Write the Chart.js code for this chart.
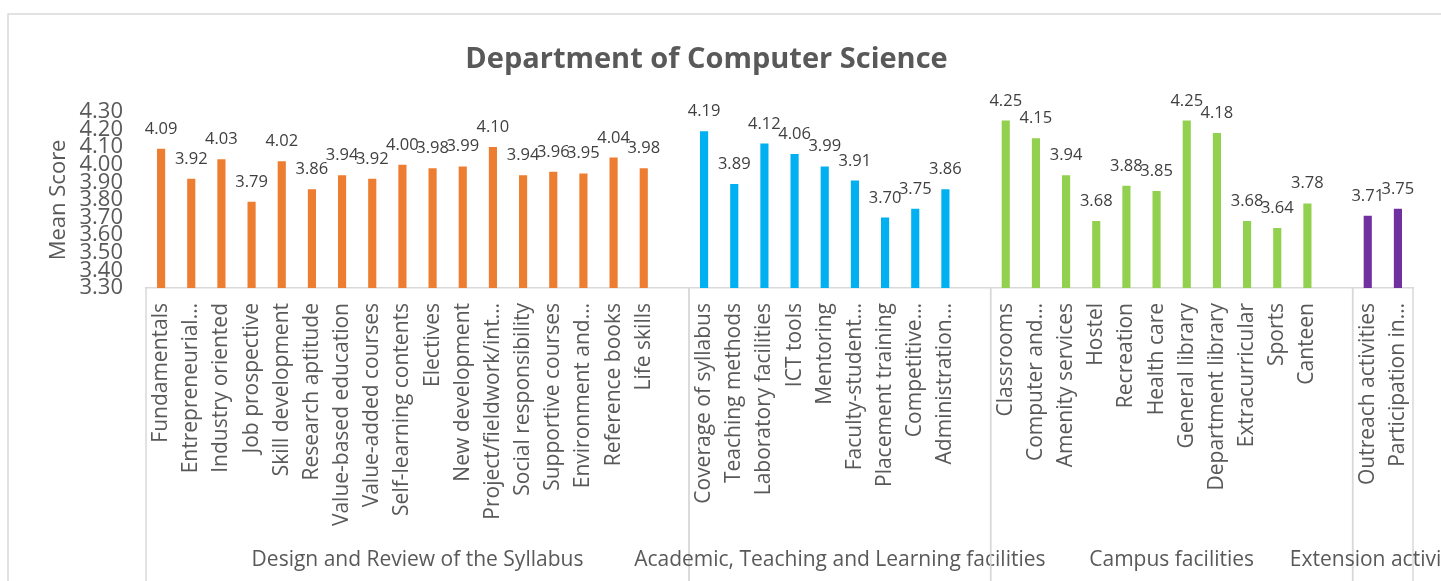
<!DOCTYPE html>
<html>
<head>
<meta charset="utf-8">
<title>Department of Computer Science</title>
<script src="https://cdn.jsdelivr.net/npm/chart.js@4.4.0/dist/chart.umd.min.js"></script>
<style>
  body { margin: 0; background: #ffffff; }
  #caixa { position: relative; width: 1441px; height: 581px; }
</style>
</head>
<body>
<div id="caixa"><canvas id="graficoMedia"></canvas></div>
<script>
// Second level of the category axis
const groupNames = ['Design and Review of the Syllabus', 'Academic, Teaching and Learning facilities', 'Campus facilities', 'Extension activities'];
const groupColors = ['#ED7D31', '#00B0F0', '#92D050', '#7030A0'];

// First level: items of each group and their mean scores
const syllabusItems = ['Fundamentals', 'Entrepreneurial…', 'Industry oriented', 'Job prospective', 'Skill development', 'Research aptitude', 'Value-based education', 'Value-added courses', 'Self-learning contents', 'Electives', 'New development', 'Project/fieldwork/int…', 'Social responsibility', 'Supportive courses', 'Environment and…', 'Reference books', 'Life skills'];
const syllabusScores = [4.09, 3.92, 4.03, 3.79, 4.02, 3.86, 3.94, 3.92, 4.00, 3.98, 3.99, 4.10, 3.94, 3.96, 3.95, 4.04, 3.98];

const academicItems = ['Coverage of syllabus', 'Teaching methods', 'Laboratory facilities', 'ICT tools', 'Mentoring', 'Faculty-student…', 'Placement training', 'Competitive…', 'Administration…'];
const academicScores = [4.19, 3.89, 4.12, 4.06, 3.99, 3.91, 3.70, 3.75, 3.86];

const campusItems = ['Classrooms', 'Computer and…', 'Amenity services', 'Hostel', 'Recreation', 'Health care', 'General library', 'Department library', 'Extracurricular', 'Sports', 'Canteen'];
const campusScores = [4.25, 4.15, 3.94, 3.68, 3.88, 3.85, 4.25, 4.18, 3.68, 3.64, 3.78];

const extensionItems = ['Outreach activities', 'Participation in…'];
const extensionScores = [3.71, 3.75];

// Y axis ticks
const yMin = 3.3;
const yMax = 4.3;
const yStep = 0.1;

const itemGroups = [syllabusItems, academicItems, campusItems, extensionItems];
const scoreGroups = [syllabusScores, academicScores, campusScores, extensionScores];

// Build the flat label list; an empty slot closes every group except the last
const labels = [];
const groupSpans = [];
itemGroups.forEach((items, g) => {
    const start = labels.length;
    labels.push(...items);
    if (g < itemGroups.length - 1) labels.push('');
    groupSpans.push({ start: start, end: labels.length });
});

// One dataset per group, null outside its own span
const datasets = scoreGroups.map((scores, g) => {
    const data = labels.map(() => null);
    scores.forEach((v, i) => { data[groupSpans[g].start + i] = v; });
    return {
        label: groupNames[g],
        data: data,
        backgroundColor: groupColors[g],
        grouped: false,
        categoryPercentage: 1,
        barPercentage: 0.27
    };
});

const fontFamily = '"Open Sans", sans-serif';

// Light frame around the chart (cut by the canvas on the right and bottom)
const chartBorder = {
    id: 'chartBorder',
    beforeDraw(chart) {
        const ctx = chart.ctx;
        ctx.save();
        ctx.strokeStyle = '#D9D9D9';
        ctx.lineWidth = 1.5;
        ctx.strokeRect(8, 14, chart.width + 40, chart.height + 40);
        ctx.restore();
    }
};

// Value above every bar
const valueLabels = {
    id: 'valueLabels',
    afterDatasetsDraw(chart) {
        const ctx = chart.ctx;
        ctx.save();
        ctx.font = '16.5px ' + fontFamily;
        ctx.fillStyle = '#404040';
        ctx.textAlign = 'center';
        ctx.textBaseline = 'alphabetic';
        chart.data.datasets.forEach((ds, d) => {
            chart.getDatasetMeta(d).data.forEach((bar, i) => {
                if (ds.data[i] === null) return;
                ctx.fillText(ds.data[i].toFixed(2), bar.x, bar.y - 15);
            });
        });
        ctx.restore();
    }
};

// Group separators and group names under the item labels
const groupAxis = {
    id: 'groupAxis',
    afterDraw(chart) {
        const x = chart.scales.x;
        const ctx = chart.ctx;
        const slot = x.getPixelForValue(1) - x.getPixelForValue(0);
        ctx.save();
        ctx.strokeStyle = '#D9D9D9';
        ctx.lineWidth = 1.5;
        ctx.font = '21px ' + fontFamily;
        ctx.fillStyle = '#595959';
        ctx.textAlign = 'center';
        ctx.textBaseline = 'middle';
        groupSpans.forEach((span, g) => {
            const left = x.getPixelForValue(span.start) - slot / 2;
            const right = x.getPixelForValue(span.end - 1) + slot / 2;
            [left, right].forEach(px => {
                ctx.beginPath();
                ctx.moveTo(px, chart.chartArea.bottom);
                ctx.lineTo(px, chart.height);
                ctx.stroke();
            });
            ctx.fillText(groupNames[g], (left + right) / 2, 560);
        });
        ctx.restore();
    }
};

const graficoMedia = new Chart(document.getElementById('graficoMedia'), {
    type: 'bar',
    data: { labels: labels, datasets: datasets },
    plugins: [chartBorder, valueLabels, groupAxis],
    options: {
        responsive: true,
        maintainAspectRatio: false,
        animation: false,
        layout: { padding: { left: 0, right: 28, top: 0, bottom: 0 } },
        plugins: {
            legend: { display: false },
            tooltip: { enabled: false },
            title: {
                display: true,
                text: 'Department of Computer Science',
                color: '#595959',
                font: { family: fontFamily, size: 29, weight: 'bold' },
                padding: { top: 42, bottom: 35 }
            }
        },
        scales: {
            x: {
                grid: { display: false, drawTicks: false },
                border: { display: true, color: '#D9D9D9', width: 1.5 },
                ticks: {
                    autoSkip: false,
                    maxRotation: 90,
                    minRotation: 90,
                    padding: 15,
                    color: '#595959',
                    font: { family: fontFamily, size: 21 }
                },
                afterFit(scale) { scale.height = 293; }
            },
            y: {
                min: yMin,
                max: yMax,
                grid: { display: false, drawTicks: false },
                border: { display: false },
                ticks: {
                    stepSize: yStep,
                    autoSkip: false,
                    padding: 23,
                    color: '#595959',
                    font: { family: fontFamily, size: 22 },
                    callback: v => v.toFixed(2)
                },
                title: {
                    display: true,
                    text: 'Mean Score',
                    color: '#595959',
                    font: { family: fontFamily, size: 22 },
                    padding: { top: 46, bottom: 0 }
                },
                afterFit(scale) { scale.width = 146; }
            }
        }
    }
});
</script>
</body>
</html>
